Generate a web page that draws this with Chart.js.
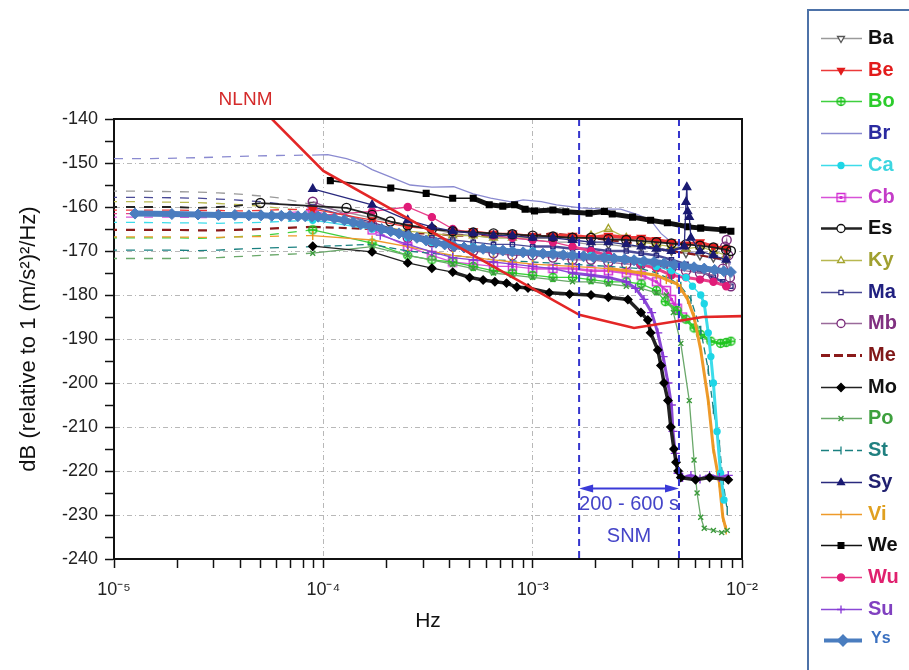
<!DOCTYPE html>
<html>
<head>
<meta charset="utf-8">
<script src="https://cdn.jsdelivr.net/npm/chart.js"></script>
<style>
  html, body { margin: 0; padding: 0; background: #fff; }
  canvas { display: block; }
</style>
</head>
<body>
<canvas id="psd" width="909" height="670"></canvas>
<script>
// Station noise spectra, [frequency (Hz), dB rel. 1 (m/s^2)^2/Hz]
const nlnm = [[4.0e-5, -132.7], [1.0e-4, -151.8], [1.67e-3, -184.5], [3.05e-3, -187.5], [6.5e-3, -185], [1.0e-2, -184.8]];

const ba = [[6.3e-6, -156.4], [1.26e-5, -156.4], [1.89e-5, -156.5], [2.52e-5, -156.6], [3.15e-5, -156.8], [3.78e-5, -157], [5.04e-5, -157.5], [6.3e-5, -158], [8.9e-5, -159.5],
  [1.71e-4, -162.5], [2.53e-4, -164], [3.3e-4, -165], [4.15e-4, -166], [5.2e-4, -166.5], [6.5e-4, -167], [8e-4, -167], [1e-3, -167.5], [1.25e-3, -168], [1.55e-3, -168],
  [1.9e-3, -168.5], [2.3e-3, -168.5], [2.8e-3, -169], [3.3e-3, -169], [3.9e-3, -169.5], [4.6e-3, -170], [5.4e-3, -170.5], [6.3e-3, -171], [7.3e-3, -171.5], [8.4e-3, -172]];

const be = [[6.3e-6, -160.7], [1.26e-5, -160.7], [1.89e-5, -160.7], [2.52e-5, -160.8], [3.15e-5, -160.8], [3.78e-5, -160.9], [5.04e-5, -160.8], [6.3e-5, -160.6], [8.9e-5, -160.5],
  [1.71e-4, -163], [2.53e-4, -164.5], [3.3e-4, -165], [4.15e-4, -165.5], [5.2e-4, -165.5], [6.5e-4, -166], [8e-4, -166], [1e-3, -166.5], [1.25e-3, -166.5], [1.55e-3, -166.5],
  [1.9e-3, -167], [2.3e-3, -166.5], [2.8e-3, -167], [3.3e-3, -167], [3.9e-3, -167.5], [4.6e-3, -168], [5.4e-3, -168.5], [6.3e-3, -168], [7.3e-3, -169], [8.4e-3, -169.5]];

const bo = [[6.3e-6, -167], [1.26e-5, -167], [1.89e-5, -167], [2.52e-5, -167.1], [3.15e-5, -167], [3.78e-5, -166.8], [5.04e-5, -166.5], [6.3e-5, -166], [8.9e-5, -165.2],
  [1.71e-4, -168.2], [2.53e-4, -171], [3.3e-4, -172], [4.15e-4, -172.5], [5.2e-4, -173.5], [6.5e-4, -174.5], [8e-4, -175], [1e-3, -175.5], [1.25e-3, -176], [1.55e-3, -176],
  [1.9e-3, -176.5], [2.3e-3, -177], [2.8e-3, -177], [3.3e-3, -177.5], [3.9e-3, -179], [4.3e-3, -181.5], [4.9e-3, -183.5], [5.4e-3, -185.5], [5.9e-3, -187.5], [6.35e-3, -189],
  [7.1e-3, -190.5], [7.9e-3, -191], [8.4e-3, -190.8], [8.85e-3, -190.5]];

const br = [[1.0e-5, -149], [1.5e-5, -149], [2.5e-5, -148.8], [4e-5, -148.5], [6e-5, -148.3], [8.9e-5, -148.2], [1.05e-4, -148.1], [1.29e-4, -149], [1.5e-4, -150], [1.71e-4, -151.5],
  [2.1e-4, -153.2], [2.6e-4, -155], [3.3e-4, -155.5], [4.2e-4, -155.4], [5.2e-4, -157], [6.3e-4, -158], [8e-4, -158.9], [9e-4, -158.4], [1.1e-3, -158.8], [1.3e-3, -159.5],
  [1.7e-3, -160.2], [2.2e-3, -160.5], [2.63e-3, -160.5], [3.2e-3, -161.8], [3.66e-3, -163], [4.1e-3, -166], [4.6e-3, -168], [5.4e-3, -170], [6.4e-3, -171], [7.9e-3, -172], [8.85e-3, -173]];

const ca = [[6.3e-6, -163.5], [1.26e-5, -163.5], [1.89e-5, -163.6], [2.52e-5, -163.6], [3.15e-5, -163.7], [3.78e-5, -163.6], [5.04e-5, -163.5], [6.3e-5, -163.3], [8.9e-5, -163],
  [1.71e-4, -165], [2.53e-4, -167], [3.3e-4, -168], [4.15e-4, -168.5], [5.2e-4, -169], [6.5e-4, -169.5], [8e-4, -170], [1e-3, -170], [1.25e-3, -170.5], [1.55e-3, -171],
  [1.9e-3, -171], [2.3e-3, -171.5], [2.8e-3, -172], [3.3e-3, -172.5], [3.9e-3, -173.5], [4.6e-3, -174.5], [5.4e-3, -176], [5.8e-3, -178], [6.35e-3, -180], [6.6e-3, -182],
  [6.9e-3, -188.6], [7.1e-3, -194], [7.3e-3, -200], [7.6e-3, -211], [7.9e-3, -220.5], [8.2e-3, -226.6]];

const cb = [[6.3e-6, -162.3], [1.26e-5, -162.3], [1.89e-5, -162.3], [2.52e-5, -162.4], [3.15e-5, -162.4], [3.78e-5, -162.3], [5.04e-5, -162], [6.3e-5, -161.5], [8.9e-5, -160.7],
  [1.71e-4, -165.2], [2.53e-4, -169], [3.3e-4, -171], [4.15e-4, -172.5], [5.2e-4, -173], [6.5e-4, -173.5], [8e-4, -173.5], [1e-3, -174], [1.25e-3, -174], [1.55e-3, -174],
  [1.9e-3, -174.5], [2.3e-3, -174.5], [2.8e-3, -175], [3.3e-3, -175.5], [3.9e-3, -177], [4.35e-3, -179], [4.6e-3, -181], [4.9e-3, -183], [5.2e-3, -185]];

const es = [[6.3e-6, -160], [1.26e-5, -160], [1.89e-5, -160], [2.52e-5, -160.2], [3.15e-5, -160], [3.78e-5, -159.8], [5.0e-5, -159.1], [1.29e-4, -160.2], [1.71e-4, -161.8],
  [2.09e-4, -163.3], [2.53e-4, -164.2], [3.3e-4, -165], [4.15e-4, -165.5], [5.2e-4, -165.8], [6.5e-4, -166], [8e-4, -166.2], [1e-3, -166.5], [1.25e-3, -166.7], [1.55e-3, -167],
  [1.9e-3, -167], [2.3e-3, -167.3], [2.8e-3, -167.5], [3.3e-3, -167.7], [3.9e-3, -168], [4.6e-3, -168.3], [5.4e-3, -168.5], [6.3e-3, -168.8], [7.3e-3, -169.2], [8.4e-3, -169.7], [8.85e-3, -170]];

const ky = [[6.3e-6, -158.8], [1.26e-5, -158.8], [1.89e-5, -158.9], [2.52e-5, -159], [3.15e-5, -159.2], [3.78e-5, -159.4], [5.04e-5, -159.8], [6.3e-5, -160.3], [8.9e-5, -161],
  [1.71e-4, -164], [2.53e-4, -165.5], [3.3e-4, -166], [4.15e-4, -166.5], [5.2e-4, -166.5], [6.5e-4, -167], [8e-4, -167], [1e-3, -167], [1.25e-3, -167], [1.55e-3, -167],
  [1.9e-3, -166.5], [2.3e-3, -165], [2.8e-3, -167], [3.3e-3, -168], [3.9e-3, -168.5], [4.6e-3, -169], [5.4e-3, -169.5], [6.3e-3, -169], [7.3e-3, -170], [8.4e-3, -171]];

const ma = [[6.3e-6, -157.8], [1.26e-5, -157.8], [1.89e-5, -157.9], [2.52e-5, -158], [3.15e-5, -158.2], [3.78e-5, -158.4], [5.04e-5, -158.8], [6.3e-5, -159.3], [8.9e-5, -160],
  [1.71e-4, -163.5], [2.53e-4, -166], [3.3e-4, -167], [4.15e-4, -167.5], [5.2e-4, -168], [6.5e-4, -168.5], [8e-4, -168.5], [1e-3, -169], [1.25e-3, -169], [1.55e-3, -169.5],
  [1.9e-3, -169.5], [2.3e-3, -170], [2.8e-3, -170], [3.3e-3, -170.5], [3.9e-3, -171], [4.6e-3, -172], [5.4e-3, -173], [6.3e-3, -174.5], [7.3e-3, -176], [8.1e-3, -177], [8.85e-3, -178]];

const mb = [[8.9e-5, -158.8], [1.71e-4, -164], [2.53e-4, -167], [3.3e-4, -168], [4.15e-4, -169], [5.2e-4, -170], [6.5e-4, -170.5], [8e-4, -171], [1e-3, -171], [1.25e-3, -171.5],
  [1.55e-3, -172], [1.9e-3, -172], [2.3e-3, -172.5], [2.8e-3, -173], [3.3e-3, -173], [3.9e-3, -173.5], [4.6e-3, -174], [5.4e-3, -174.5], [6.3e-3, -175], [7.3e-3, -175.5],
  [8.1e-3, -174], [8.3e-3, -169], [8.45e-3, -167.5], [8.6e-3, -171], [8.75e-3, -176], [8.85e-3, -178]];

const me = [[6.3e-6, -165.2], [1.26e-5, -165.2], [1.89e-5, -165.2], [2.52e-5, -165.3], [3.15e-5, -165.3], [3.78e-5, -165.2], [5.04e-5, -165], [6.3e-5, -164.8], [8.9e-5, -164.5],
  [1.71e-4, -165], [2.53e-4, -166], [3.3e-4, -166], [4.15e-4, -166.5], [5.2e-4, -166.5], [6.5e-4, -166.5], [8e-4, -166.5], [1e-3, -166.5], [1.25e-3, -166], [1.55e-3, -166.5],
  [1.9e-3, -167], [2.3e-3, -167.5], [2.8e-3, -168], [3.3e-3, -168.5], [3.9e-3, -169.5], [4.6e-3, -170], [5.4e-3, -170.5], [6.3e-3, -171], [7.3e-3, -171.5], [8.4e-3, -172]];

const mo = [[8.9e-5, -168.9], [1.71e-4, -170.2], [2.53e-4, -172.7], [3.3e-4, -173.9], [4.15e-4, -174.8], [5.0e-4, -176], [5.8e-4, -176.6], [6.6e-4, -177], [7.5e-4, -177.3],
  [8.4e-4, -178.2], [9.5e-4, -178.4], [1.2e-3, -179.5], [1.5e-3, -179.8], [1.9e-3, -180], [2.3e-3, -180.5], [2.85e-3, -181], [3.29e-3, -184], [3.55e-3, -185.7], [3.66e-3, -188.6],
  [3.96e-3, -192.5], [4.1e-3, -196], [4.24e-3, -200], [4.43e-3, -204], [4.57e-3, -210], [4.73e-3, -215], [4.84e-3, -218], [4.95e-3, -220], [5.1e-3, -221.5], [6e-3, -222],
  [7e-3, -221.5], [8.6e-3, -222]];

const po = [[6.3e-6, -171.7], [1.26e-5, -171.7], [1.89e-5, -171.7], [2.52e-5, -171.6], [3.15e-5, -171.5], [3.78e-5, -171.3], [5.04e-5, -171], [6.3e-5, -170.8], [8.9e-5, -170.5],
  [1.71e-4, -169], [2.53e-4, -171], [4.15e-4, -173], [5.2e-4, -174], [6.5e-4, -175], [8e-4, -175.5], [1e-3, -176], [1.25e-3, -176.5], [1.55e-3, -177], [1.9e-3, -177],
  [2.3e-3, -177.5], [2.8e-3, -178], [3.3e-3, -178.5], [3.9e-3, -179.5], [4.35e-3, -180], [4.7e-3, -184], [5.1e-3, -191], [5.6e-3, -204], [5.9e-3, -217.5], [6.1e-3, -225],
  [6.35e-3, -230.5], [6.6e-3, -233], [7.3e-3, -233.5], [8e-3, -234], [8.5e-3, -233.5]];

const st = [[6.3e-6, -169.8], [1.26e-5, -169.8], [1.89e-5, -169.8], [2.52e-5, -169.9], [3.15e-5, -169.8], [3.78e-5, -169.6], [5.04e-5, -169.4], [6.3e-5, -169.2], [8.9e-5, -169],
  [1.71e-4, -168.5], [2.53e-4, -170], [4.15e-4, -171], [6.5e-4, -172], [1e-3, -172.5], [1.55e-3, -173], [2.3e-3, -173.5], [3.3e-3, -174], [3.9e-3, -175], [4.6e-3, -176.5],
  [5.1e-3, -178], [5.7e-3, -181], [6.35e-3, -188], [6.9e-3, -197], [7.3e-3, -206], [7.8e-3, -214], [8.1e-3, -222], [8.5e-3, -229]];

const sy = [[8.9e-5, -155.9], [1.71e-4, -159.5], [2.53e-4, -163], [3.3e-4, -164.5], [4.15e-4, -165.5], [5.2e-4, -166], [6.5e-4, -166.5], [8e-4, -166.5], [1e-3, -167],
  [1.25e-3, -167], [1.55e-3, -167.5], [1.9e-3, -168], [2.3e-3, -168], [2.8e-3, -168.5], [3.3e-3, -169], [3.9e-3, -169.5], [4.6e-3, -170], [5.3e-3, -169], [5.4e-3, -158.9],
  [5.45e-3, -155.5], [5.5e-3, -161], [5.6e-3, -162.3], [5.7e-3, -167], [6.3e-3, -170], [7.3e-3, -171], [8.4e-3, -172]];

const vi = [[6.3e-6, -166.8], [1.26e-5, -166.8], [1.89e-5, -166.8], [2.52e-5, -166.9], [3.15e-5, -166.9], [3.78e-5, -166.8], [5.04e-5, -166.7], [6.3e-5, -166.6], [8.9e-5, -166.5],
  [1.71e-4, -167.5], [2.53e-4, -169], [4.15e-4, -171], [6.5e-4, -172], [8e-4, -172.5], [1e-3, -173], [1.55e-3, -173.5], [2.3e-3, -174], [2.8e-3, -174.5], [3.3e-3, -175],
  [3.9e-3, -175.5], [4.35e-3, -176.5], [4.9e-3, -177.5], [5.1e-3, -178.5], [5.5e-3, -181], [5.9e-3, -185], [6.35e-3, -192.5], [6.9e-3, -204], [7.3e-3, -215], [7.8e-3, -222.7],
  [8.1e-3, -230.5], [8.4e-3, -233.4]];

const we = [[1.08e-4, -154], [2.1e-4, -155.7], [3.1e-4, -156.9], [4.15e-4, -158], [5.2e-4, -158], [6.2e-4, -159.5], [7.2e-4, -159.8], [8.2e-4, -159.5], [9.2e-4, -160.5],
  [1.02e-3, -160.9], [1.25e-3, -160.7], [1.44e-3, -161.1], [1.86e-3, -161.4], [2.2e-3, -161], [2.4e-3, -161.6], [3.0e-3, -162.3], [3.66e-3, -163], [4.4e-3, -163.6],
  [5.5e-3, -164.5], [6.35e-3, -164.8], [8.1e-3, -165.2], [8.85e-3, -165.5]];

const wu = [[6.3e-6, -161.5], [1.26e-5, -161.5], [1.89e-5, -161.6], [2.52e-5, -161.6], [3.15e-5, -161.7], [3.78e-5, -161.7], [5.04e-5, -161.8], [6.3e-5, -161.9], [8.9e-5, -162],
  [1.71e-4, -161], [2.53e-4, -160], [3.3e-4, -162.3], [4.15e-4, -165], [5.2e-4, -166], [6.5e-4, -166.5], [8e-4, -167], [1e-3, -167.5], [1.25e-3, -168], [1.55e-3, -169],
  [1.9e-3, -170], [2.3e-3, -171], [2.8e-3, -172], [3.3e-3, -173], [3.9e-3, -174], [4.6e-3, -175.5], [5.4e-3, -176], [6.3e-3, -176.5], [7.3e-3, -177], [8.4e-3, -178]];

const su = [[1.87e-4, -166.4], [2.53e-4, -168.5], [3.3e-4, -170.2], [4.15e-4, -171.5], [5.2e-4, -172], [6.5e-4, -172.5], [8e-4, -173], [1e-3, -173.5], [1.25e-3, -174],
  [1.55e-3, -175], [1.9e-3, -175.5], [2.3e-3, -176], [2.8e-3, -177], [3.1e-3, -178.5], [3.4e-3, -181], [3.7e-3, -184], [3.96e-3, -188.6], [4.2e-3, -194], [4.43e-3, -200],
  [4.6e-3, -205], [4.68e-3, -211], [4.8e-3, -216], [4.95e-3, -220.5], [5.2e-3, -221.5], [5.7e-3, -221], [6.3e-3, -221.8], [7.0e-3, -221], [7.8e-3, -221.5], [8.6e-3, -221]];

const ys = [[1.26e-5, -161.5], [1.89e-5, -161.6], [2.52e-5, -161.7], [3.15e-5, -161.8], [3.78e-5, -161.8], [4.41e-5, -161.9], [5.04e-5, -161.9], [5.67e-5, -162], [6.3e-5, -162],
  [6.93e-5, -162], [7.56e-5, -162.1], [8.19e-5, -162.1], [8.82e-5, -162.2], [9.45e-5, -162.2], [1.01e-4, -162.3], [1.13e-4, -162.6], [1.26e-4, -163], [1.39e-4, -163.5],
  [1.51e-4, -163.9], [1.7e-4, -164.5], [1.9e-4, -165], [2.1e-4, -165.5], [2.3e-4, -166], [2.55e-4, -166.5], [2.8e-4, -167], [3.1e-4, -167.6], [3.45e-4, -168.1], [3.8e-4, -168.5],
  [4.2e-4, -168.9], [4.7e-4, -169.2], [5.2e-4, -169.4], [5.8e-4, -169.5], [6.5e-4, -169.7], [7.2e-4, -169.9], [8e-4, -170.1], [9e-4, -170.3], [1e-3, -170.4], [1.12e-3, -170.6],
  [1.25e-3, -170.7], [1.4e-3, -170.9], [1.55e-3, -171], [1.75e-3, -171.2], [1.95e-3, -171.4], [2.2e-3, -171.5], [2.45e-3, -171.7], [2.75e-3, -171.9], [3.05e-3, -172.1],
  [3.4e-3, -172.3], [3.8e-3, -172.5], [4.25e-3, -172.8], [4.75e-3, -173.1], [5.3e-3, -173.4], [5.9e-3, -173.7], [6.6e-3, -174], [7.4e-3, -174.3], [8.2e-3, -174.6], [8.85e-3, -174.8]];

// SNM band in seconds, arrow level and label levels in dB
const snmPeriods = [600, 200];
const snmArrowDb = -224;
const snmLabels = [['200 - 600 s', -227.7], ['SNM', -234.8]];
const nlnmLabel = ['NLNM', 4.25e-5, -135.6];

const yTickValues = [];
for (let v = -240; v <= -140; v += 5) yTickValues.push(v);
const xTickValues = [];
for (let e = -5; e < -2; e++) for (let m = 1; m < 10; m++) xTickValues.push(m * Math.pow(10, e));
xTickValues.push(1e-2);

function markerCanvas(paint) {
  const c = document.createElement('canvas');
  c.width = c.height = 11;
  paint(c.getContext('2d'));
  return c;
}
const boMark = markerCanvas(g => {
  g.strokeStyle = '#1fc41f'; g.lineWidth = 1.5;
  g.beginPath(); g.arc(5.5, 5.5, 4, 0, Math.PI * 2); g.stroke();
  g.beginPath(); g.moveTo(1.5, 5.5); g.lineTo(9.5, 5.5); g.moveTo(5.5, 1.5); g.lineTo(5.5, 9.5); g.stroke();
});
const cbMark = markerCanvas(g => {
  g.strokeStyle = '#d22ed2'; g.lineWidth = 1.5;
  g.strokeRect(1.5, 1.5, 8, 8);
  g.fillStyle = '#d22ed2'; g.fillRect(4, 4, 3, 3);
});

const OPEN = 'rgba(255,255,255,0)';
// legend order; `heavy` widens the line over a frequency span where the curve is a dense band
const stations = [
  { label: 'Ba', data: ba, mark: '#555', line: '#9a9a9a', text: '#111', shape: 'triangle', rot: 180, r: 4.5, open: true },
  { label: 'Be', data: be, mark: '#e21c1c', line: '#ec3a3a', text: '#e21c1c', shape: 'triangle', rot: 180, r: 4.5, heavy: [1.2e-3, 9e-3, 3.5] },
  { label: 'Bo', data: bo, mark: '#1fc41f', line: '#3fd03f', text: '#2ccc2c', shape: boMark, r: 5, heavy: [4e-3, 9e-3, 3] },
  { label: 'Br', data: br, mark: '#8484cc', line: '#8a8ad0', text: '#2a2aa0', shape: false, r: 0 },
  { label: 'Ca', data: ca, mark: '#1ed6e6', line: '#3ddcea', text: '#3dd6e0', shape: 'circle', r: 3, heavy: [6e-3, 9e-3, 3] },
  { label: 'Cb', data: cb, mark: '#d22ed2', line: '#d852d8', text: '#c43cc8', shape: cbMark, r: 5, heavy: [1e-3, 9e-3, 2.5] },
  { label: 'Es', data: es, mark: '#111', line: '#222', text: '#111', shape: 'circle', r: 4.5, open: true, lw: 1.8 },
  { label: 'Ky', data: ky, mark: '#a3a32c', line: '#b8b850', text: '#a0a030', shape: 'triangle', r: 4.5, open: true },
  { label: 'Ma', data: ma, mark: '#2a2a80', line: '#4a4a96', text: '#202080', shape: 'rect', r: 3, open: true, heavy: [1e-3, 9e-3, 2.5] },
  { label: 'Mb', data: mb, mark: '#7a2a7a', line: '#9a6a9a', text: '#803080', shape: 'circle', r: 4.5, open: true },
  { label: 'Me', data: me, mark: '#8b1a1a', line: '#8b1a1a', text: '#801818', shape: false, r: 0, dash: [8, 5], lw: 2.2 },
  { label: 'Mo', data: mo, mark: '#000', line: '#222', text: '#111', shape: 'rectRot', r: 4, heavy: [4e-4, 9e-3, 3.5] },
  { label: 'Po', data: po, mark: '#3a9a3a', line: '#6aa86a', text: '#3ea03e', shape: 'crossRot', r: 3.5 },
  { label: 'St', data: st, mark: '#1a8080', line: '#1a8080', text: '#208080', shape: 'line', rot: 90, r: 4.5, dash: [7, 4] },
  { label: 'Sy', data: sy, mark: '#1a1a72', line: '#2a2a7e', text: '#202070', shape: 'triangle', r: 4.5, heavy: [3e-3, 5.2e-3, 2.5] },
  { label: 'Vi', data: vi, mark: '#e8961c', line: '#ee9a2a', text: '#e0a020', shape: 'line', rot: 90, r: 4.5, heavy: [2e-3, 9e-3, 3] },
  { label: 'We', data: we, mark: '#000', line: '#111', text: '#111', shape: 'rect', r: 4, lw: 1.6, heavy: [4.5e-4, 9e-3, 5] },
  { label: 'Wu', data: wu, mark: '#e01c78', line: '#e8408a', text: '#e0206e', shape: 'circle', r: 3.5, heavy: [1.5e-3, 9e-3, 3] },
  { label: 'Su', data: su, mark: '#8636d6', line: '#8a48d6', text: '#8040c0', shape: 'cross', r: 4.5, heavy: [1.5e-3, 9e-3, 3] },
  { label: 'Ys', data: ys, mark: '#4a7dbf', line: '#4a7dbf', text: '#3a70c0', shape: 'rectRot', r: 5.5, lw: 6 }
];
const drawOrder = ['Ys', 'Sy', 'Mo', 'Su', 'Po', 'Ca', 'Vi', 'St', 'Bo', 'We', 'Es', 'Be', 'Wu', 'Cb', 'Mb', 'Ma', 'Ky', 'Me', 'Ba', 'Br'];

function stationDataset(s) {
  const pts = s.data;
  const base = s.lw || 1.3;
  return {
    label: s.label,
    data: pts.map(([x, y]) => ({ x, y })),
    borderColor: s.line,
    borderWidth: base,
    borderDash: s.dash || [],
    tension: 0,
    pointStyle: s.shape,
    rotation: s.rot || 0,
    pointRotation: s.rot || 0,
    pointBorderColor: s.mark,
    pointBackgroundColor: s.open ? OPEN : s.mark,
    pointBorderWidth: s.label === 'Ys' ? 1 : 1.4,
    // the low-frequency end is drawn as a broken line without symbols
    pointRadius: ctx => (ctx.raw && ctx.raw.x < (s.label === 'Es' ? 4.5e-5 : s.label === 'Ys' ? 1e-5 : 8e-5)) ? 0 : s.r,
    segment: {
      borderDash: ctx => (s.label !== 'Ys' && pts[ctx.p1DataIndex][0] < 9.5e-5) ? [9, 9] : undefined,
      borderWidth: ctx => {
        const f = pts[ctx.p0DataIndex][0];
        return (s.heavy && f >= s.heavy[0] && f <= s.heavy[1]) ? s.heavy[2] : base;
      }
    }
  };
}

const isDecade = v => Math.abs(Math.log10(v) - Math.round(Math.log10(v))) < 1e-6;
const SUP = { '-': '\u207B', '0': '\u2070', '1': '\u00B9', '2': '\u00B2', '3': '\u00B3', '4': '\u2074', '5': '\u2075', '6': '\u2076', '7': '\u2077', '8': '\u2078', '9': '\u2079' };
const decadeLabel = v => '10' + String(Math.round(Math.log10(v))).split('').map(c => SUP[c]).join('');

const datasets = [{
  label: 'NLNM',
  data: nlnm.map(([x, y]) => ({ x, y })),
  borderColor: '#e32626',
  borderWidth: 2.6,
  pointRadius: 0,
  tension: 0,
  clip: 0
}];
drawOrder.forEach(name => datasets.push(stationDataset(stations.find(s => s.label === name))));

const frame = {
  id: 'frame',
  afterDraw(chart) {
    const { ctx, chartArea: a } = chart;
    ctx.save();
    ctx.strokeStyle = '#111';
    ctx.lineWidth = 2;
    ctx.beginPath();
    ctx.moveTo(a.left, a.top); ctx.lineTo(a.right, a.top); ctx.lineTo(a.right, a.bottom);
    ctx.stroke();
    ctx.restore();
  }
};

const snmBand = {
  id: 'snmBand',
  afterDatasetsDraw(chart) {
    const { ctx, chartArea: a, scales: { x, y } } = chart;
    const xs = snmPeriods.map(p => x.getPixelForValue(1 / p));
    ctx.save();
    ctx.strokeStyle = '#3434cc';
    ctx.lineWidth = 2;
    ctx.setLineDash([7, 5]);
    xs.forEach(px => { ctx.beginPath(); ctx.moveTo(px, a.top); ctx.lineTo(px, a.bottom); ctx.stroke(); });
    ctx.setLineDash([]);
    const ay = y.getPixelForValue(snmArrowDb);
    ctx.strokeStyle = ctx.fillStyle = '#3a3ad8';
    ctx.beginPath(); ctx.moveTo(xs[0] + 8, ay); ctx.lineTo(xs[1] - 8, ay); ctx.stroke();
    [[xs[0], 1], [xs[1], -1]].forEach(([px, d]) => {
      ctx.beginPath(); ctx.moveTo(px, ay); ctx.lineTo(px + 14 * d, ay - 4); ctx.lineTo(px + 14 * d, ay + 4); ctx.closePath(); ctx.fill();
    });
    ctx.font = '20px "Liberation Sans", Arial, sans-serif';
    ctx.textAlign = 'center';
    ctx.textBaseline = 'middle';
    ctx.fillStyle = '#4444c8';
    snmLabels.forEach(([t, db]) => ctx.fillText(t, (xs[0] + xs[1]) / 2, y.getPixelForValue(db)));
    // reference curve name
    ctx.font = '19px "Liberation Sans", Arial, sans-serif';
    ctx.fillStyle = '#d42a2a';
    ctx.fillText(nlnmLabel[0], x.getPixelForValue(nlnmLabel[1]), y.getPixelForValue(nlnmLabel[2]));
    ctx.restore();
  }
};

const stationLegend = {
  id: 'stationLegend',
  afterDraw(chart) {
    const ctx = chart.ctx;
    const drawPoint = Chart.helpers && Chart.helpers.drawPoint;
    ctx.save();
    ctx.strokeStyle = '#4d72a8';
    ctx.lineWidth = 2;
    ctx.strokeRect(808, 10, 140, 700);
    stations.forEach((s, i) => {
      const yy = Math.round(38 + i * 31.7) + 0.5;
      const isYs = s.label === 'Ys';
      ctx.strokeStyle = s.line;
      ctx.lineWidth = isYs ? 4 : s.label === 'Es' ? 2.4 : s.label === 'Me' ? 3 : 1.5;
      ctx.setLineDash(s.label === 'Me' ? [9, 4] : s.label === 'St' ? [8, 4] : []);
      ctx.beginPath();
      ctx.moveTo(isYs ? 824 : 821, yy); ctx.lineTo(862, yy);
      ctx.stroke();
      ctx.setLineDash([]);
      if (s.shape && drawPoint) {
        ctx.strokeStyle = s.mark;
        ctx.fillStyle = s.open ? '#fff' : s.mark;
        ctx.lineWidth = 1.3;
        drawPoint(ctx, { pointStyle: s.shape, rotation: s.rot || 0, radius: isYs ? 5.5 : Math.min(s.r, 4), borderWidth: 1.3 }, isYs ? 843 : 841, yy);
      }
      ctx.fillStyle = s.text;
      ctx.font = isYs ? 'bold 16px "Liberation Sans", Arial, sans-serif' : 'bold 20px "Liberation Sans", Arial, sans-serif';
      ctx.textAlign = 'left';
      ctx.textBaseline = 'middle';
      ctx.fillText(s.label, isYs ? 871 : 868, yy - (isYs ? 2 : 0));
    });
    ctx.restore();
  }
};

Chart.defaults.font.family = '"Liberation Sans", Arial, sans-serif';

new Chart(document.getElementById('psd'), {
  type: 'line',
  data: { datasets },
  plugins: [frame, snmBand, stationLegend],
  options: {
    responsive: false,
    animation: false,
    events: [],
    layout: { padding: { left: 0, right: 167, top: 119, bottom: 0 } },
    plugins: { legend: { display: false }, tooltip: { enabled: false } },
    scales: {
      x: {
        type: 'logarithmic',
        min: 1e-5,
        max: 1e-2,
        afterBuildTicks: s => { s.ticks = xTickValues.map(v => ({ value: v })); },
        afterFit: s => { s.height = 111; },
        grid: {
          color: c => (c.tick && isDecade(c.tick.value) && c.tick.value > 1.5e-5 && c.tick.value < 9e-3) ? '#b8b8b8' : 'rgba(0,0,0,0)',
          lineWidth: 1,
          tickColor: '#111',
          tickLength: 9,
          tickWidth: 1.5
        },
        border: { color: '#111', width: 2, dash: [5, 3, 1, 3] },
        ticks: {
          autoSkip: false,
          maxRotation: 0,
          padding: 11,
          color: '#222',
          font: { size: 18 },
          callback: v => isDecade(v) ? decadeLabel(v) : ''
        },
        title: { display: true, text: 'Hz', color: '#111', font: { size: 21 }, padding: { top: 0, bottom: 36 } }
      },
      y: {
        min: -240,
        max: -140,
        afterBuildTicks: s => { s.ticks = yTickValues.map(v => ({ value: v })); },
        afterFit: s => { s.width = 114; },
        grid: {
          color: c => (c.tick && c.tick.value % 10 === 0 && c.tick.value > -240 && c.tick.value < -140) ? '#b8b8b8' : 'rgba(0,0,0,0)',
          lineWidth: 1,
          tickColor: '#111',
          tickLength: 9,
          tickWidth: 1.5
        },
        border: { color: '#111', width: 2, dash: [5, 3, 1, 3] },
        ticks: {
          autoSkip: false,
          padding: 7,
          color: '#222',
          font: { size: 18 },
          callback: v => v % 10 === 0 ? String(v) : ''
        },
        title: { display: true, text: 'dB (relative to 1 (m/s\u00B2)\u00B2/Hz)', color: '#111', font: { size: 22 }, padding: { top: 16, bottom: 0 } }
      }
    }
  }
});
</script>
</body>
</html>
